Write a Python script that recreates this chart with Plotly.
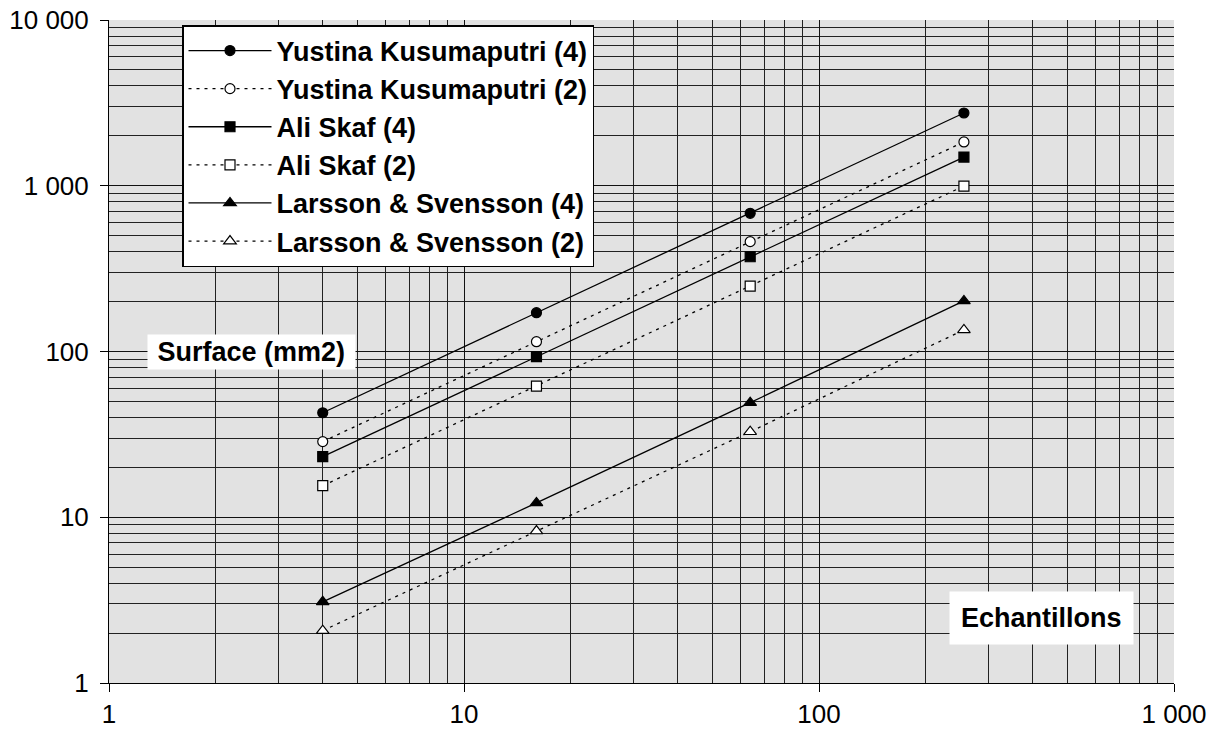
import plotly.graph_objects as go

samples = [4, 16, 64, 256]
yustina_4 = [42.7, 171.5, 682, 2748]
yustina_2 = [28.6, 114.6, 460, 1837]
ali_4 = [23.2, 93, 373, 1490]
ali_2 = [15.5, 61.9, 248, 996]
larsson_4 = [3.09, 12.2, 49.1, 202]
larsson_2 = [2.07, 8.26, 32.8, 135]

series_names = ["Yustina Kusumaputri (4)", "Yustina Kusumaputri (2)", "Ali Skaf (4)",
                "Ali Skaf (2)", "Larsson & Svensson (4)", "Larsson & Svensson (2)"]
series_values = [yustina_4, yustina_2, ali_4, ali_2, larsson_4, larsson_2]
symbols = ["circle", "circle-open", "square", "square-open", "triangle-up", "triangle-up-open"]
dashes = ["solid", "3px,5px", "solid", "3px,5px", "solid", "3px,5px"]

x_tickvals = [1, 10, 100, 1000]
x_ticktext = ["1", "10", "100", "1 000"]
y_tickvals = [1, 10, 100, 1000, 10000]
y_ticktext = ["1", "10", "100", "1 000", "10 000"]

FONT = "Liberation Sans, Arial, sans-serif"

fig = go.Figure()
for i, (name, vals) in enumerate(zip(series_names, series_values)):
    openm = "open" in symbols[i]
    fig.add_trace(go.Scatter(
        x=samples, y=vals, name=name, mode="lines+markers",
        line=dict(color="black", width=1.3, dash=dashes[i]),
        marker=dict(symbol=symbols[i].replace("-open", ""),
                    size=10 if "triangle" not in symbols[i] else 11,
                    color="white" if openm else "black",
                    line=dict(color="black", width=1.2)),
    ))

axis_common = dict(
    type="log", showline=True, linecolor="black", linewidth=1,
    ticks="outside", ticklen=8, tickcolor="black",
    showgrid=True, gridcolor="#111111", gridwidth=1,
    minor=dict(dtick="D1", showgrid=True, gridcolor="#222222", gridwidth=1, ticks=""),
    tickfont=dict(family=FONT, size=26, color="black"),
    zeroline=False, tickmode="array", automargin=False,
)

fig.update_xaxes(**axis_common, range=[0, 3], tickvals=x_tickvals, ticktext=x_ticktext)
fig.update_yaxes(**axis_common, range=[0, 4], tickvals=y_tickvals, ticktext=y_ticktext,
                 ticklabelstandoff=6)

fig.add_annotation(text="<b>\u00a0Surface (mm2)\u00a0</b>", xref="paper", yref="y",
                   x=(147 - 109) / 1065, y=2,
                   xanchor="left", yanchor="middle", showarrow=False,
                   font=dict(family=FONT, size=27, color="black"),
                   bgcolor="white", borderpad=2)
fig.add_annotation(text="<b>Echantillons</b>", xref="paper", yref="paper",
                   x=(1041 - 109) / 1065, y=(683 - 618) / 663,
                   xanchor="center", yanchor="middle", showarrow=False,
                   font=dict(family=FONT, size=27, color="black"),
                   bgcolor="white", borderpad=11)

fig.update_layout(
    width=1213, height=736,
    margin=dict(l=109, r=39, t=20, b=53, autoexpand=False),
    paper_bgcolor="white", plot_bgcolor="#e2e2e2",
    font=dict(family=FONT, color="black"),
    legend=dict(x=(182 - 109) / 1065, y=(683 - 25) / 663, xanchor="left", yanchor="top",
                bgcolor="white", bordercolor="black", borderwidth=1.5,
                font=dict(family=FONT, size=27, color="black", weight="bold"),
                itemwidth=83),
    showlegend=True,
)

fig.write_html("out.html", config={"displayModeBar": False},
               post_script="document.body.style.margin='0';")
